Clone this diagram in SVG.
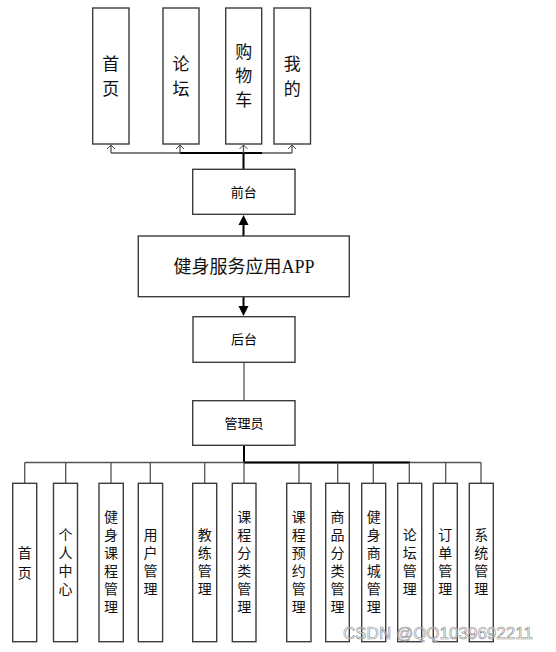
<svg xmlns="http://www.w3.org/2000/svg" width="556" height="652" viewBox="0 0 556 652">
<style>
.box{fill:#fff;stroke:#3c3c3c;stroke-width:1.4}
.t{font-family:"Noto Sans CJK SC","Noto Sans",sans-serif;fill:#111;text-anchor:middle}
.top{font-size:17px}
.bot{font-size:14px}
.mid{font-size:13px;fill:#000}
.ln{fill:none;stroke:#555;stroke-width:1.3}
.thk{fill:none;stroke:#000;stroke-width:2}
.ah{fill:none;stroke:#444;stroke-width:1}
</style>
<g id="connectors">
<path class="ln" d="M111,153 H292"/>
<path class="thk" d="M180,153 H262"/>
<path class="thk" d="M243.5,169 V153"/>
<path class="ln" d="M111,153 V145 M180,153 V145 M243.5,153 V145 M292,153 V145"/>
<path class="ah" d="M107,149 L111,145 L115,149 M176,149 L180,145 L184,149 M239.5,149 L243.5,145 L247.5,149 M288,149 L292,145 L296,149"/>
<line class="thk" x1="243.5" y1="236" x2="243.5" y2="224"/>
<path d="M238.5,225 L248.5,225 L243.5,215 Z" fill="#000"/>
<line class="thk" x1="243.5" y1="297" x2="243.5" y2="307"/>
<path d="M238.5,306 L248.5,306 L243.5,316 Z" fill="#000"/>
<line class="ln" x1="244" y1="362" x2="244" y2="401"/>
<line class="thk" x1="244" y1="445" x2="244" y2="462.5"/>
<path class="ln" d="M24.7,462.5 H481"/>
<path class="thk" d="M244,462.5 H410"/>
<path class="ln" d="M24.7,462.5 V483 M65.7,462.5 V483 M111,462.5 V483 M150.3,462.5 V483 M204.7,462.5 V483 M244,462.5 V483 M299,462.5 V483 M337.7,462.5 V483 M373.3,462.5 V483 M409.3,462.5 V483 M445.7,462.5 V483 M481,462.5 V483"/>
</g>
<g id="n-home"><rect class="box" x="92.7" y="8" width="36.3" height="136"/><text class="t top" x="110.8" y="69.5">首</text><text class="t top" x="110.8" y="94.5">页</text></g>
<g id="n-forum"><rect class="box" x="163" y="8" width="36" height="136"/><text class="t top" x="181" y="69.5">论</text><text class="t top" x="181" y="94.5">坛</text></g>
<g id="n-cart"><rect class="box" x="225.7" y="8" width="36" height="136"/><text class="t top" x="243.7" y="58">购</text><text class="t top" x="243.7" y="82">物</text><text class="t top" x="243.7" y="106">车</text></g>
<g id="n-mine"><rect class="box" x="274" y="8" width="36.5" height="136"/><text class="t top" x="292.2" y="69.5">我</text><text class="t top" x="292.2" y="94.5">的</text></g>
<g id="n-front"><rect class="box" x="192.7" y="169.3" width="102.3" height="45"/><text class="t mid" x="243.8" y="196.5">前台</text></g>
<g id="n-app"><rect class="box" x="138.3" y="236" width="211" height="60.7"/><text x="244" y="273" style="font-family:'Noto Sans CJK SC',sans-serif;font-size:18px;fill:#111;text-anchor:middle">健身服务应用<tspan style="font-family:'Liberation Serif',serif">APP</tspan></text></g>
<g id="n-back"><rect class="box" x="193" y="316.7" width="102" height="45.6"/><text class="t mid" x="244" y="344">后台</text></g>
<g id="n-admin"><rect class="box" x="192.7" y="400.7" width="102.3" height="44.6"/><text class="t mid" x="244" y="427.5">管理员</text></g>
<g id="b1"><rect class="box" x="12.7" y="483.3" width="24" height="158.4"/><text class="t bot"><tspan x="24.7" y="558">首</tspan><tspan x="24.7" y="578">页</tspan></text></g>
<g id="b2"><rect class="box" x="53.5" y="483.3" width="24" height="158.4"/><text class="t bot"><tspan x="65.5" y="540">个</tspan><tspan x="65.5" y="558">人</tspan><tspan x="65.5" y="576">中</tspan><tspan x="65.5" y="594">心</tspan></text></g>
<g id="b3"><rect class="box" x="99" y="483.3" width="24.3" height="158.4"/><text class="t bot"><tspan x="111.1" y="522">健</tspan><tspan x="111.1" y="540">身</tspan><tspan x="111.1" y="558">课</tspan><tspan x="111.1" y="576">程</tspan><tspan x="111.1" y="594">管</tspan><tspan x="111.1" y="612">理</tspan></text></g>
<g id="b4"><rect class="box" x="138.3" y="483.3" width="24.3" height="158.4"/><text class="t bot"><tspan x="150.5" y="540">用</tspan><tspan x="150.5" y="558">户</tspan><tspan x="150.5" y="576">管</tspan><tspan x="150.5" y="594">理</tspan></text></g>
<g id="b5"><rect class="box" x="192.7" y="483.3" width="24" height="158.4"/><text class="t bot"><tspan x="204.7" y="540">教</tspan><tspan x="204.7" y="558">练</tspan><tspan x="204.7" y="576">管</tspan><tspan x="204.7" y="594">理</tspan></text></g>
<g id="b6"><rect class="box" x="232.3" y="483.3" width="23.7" height="158.4"/><text class="t bot"><tspan x="244.2" y="522">课</tspan><tspan x="244.2" y="540">程</tspan><tspan x="244.2" y="558">分</tspan><tspan x="244.2" y="576">类</tspan><tspan x="244.2" y="594">管</tspan><tspan x="244.2" y="612">理</tspan></text></g>
<g id="b7"><rect class="box" x="286.7" y="483.3" width="24.3" height="158.4"/><text class="t bot"><tspan x="298.8" y="522">课</tspan><tspan x="298.8" y="540">程</tspan><tspan x="298.8" y="558">预</tspan><tspan x="298.8" y="576">约</tspan><tspan x="298.8" y="594">管</tspan><tspan x="298.8" y="612">理</tspan></text></g>
<g id="b8"><rect class="box" x="325.7" y="483.3" width="23.6" height="158.4"/><text class="t bot"><tspan x="337.5" y="522">商</tspan><tspan x="337.5" y="540">品</tspan><tspan x="337.5" y="558">分</tspan><tspan x="337.5" y="576">类</tspan><tspan x="337.5" y="594">管</tspan><tspan x="337.5" y="612">理</tspan></text></g>
<g id="b9"><rect class="box" x="361.7" y="483.3" width="24" height="158.4"/><text class="t bot"><tspan x="373.7" y="522">健</tspan><tspan x="373.7" y="540">身</tspan><tspan x="373.7" y="558">商</tspan><tspan x="373.7" y="576">城</tspan><tspan x="373.7" y="594">管</tspan><tspan x="373.7" y="612">理</tspan></text></g>
<g id="b10"><rect class="box" x="397.7" y="483.3" width="24" height="158.4"/><text class="t bot"><tspan x="409.7" y="540">论</tspan><tspan x="409.7" y="558">坛</tspan><tspan x="409.7" y="576">管</tspan><tspan x="409.7" y="594">理</tspan></text></g>
<g id="b11"><rect class="box" x="433.3" y="483.3" width="24" height="158.4"/><text class="t bot"><tspan x="445.3" y="540">订</tspan><tspan x="445.3" y="558">单</tspan><tspan x="445.3" y="576">管</tspan><tspan x="445.3" y="594">理</tspan></text></g>
<g id="b12"><rect class="box" x="469.3" y="483.3" width="24" height="158.4"/><text class="t bot"><tspan x="481.3" y="540">系</tspan><tspan x="481.3" y="558">统</tspan><tspan x="481.3" y="576">管</tspan><tspan x="481.3" y="594">理</tspan></text></g>
<text x="343" y="638.5" style="font-family:'Liberation Sans',Arial,sans-serif;font-size:17px;fill:#fff;fill-opacity:0.6;stroke:#8a8a8a;stroke-width:0.6">CSDN @QQ1039692211</text>
</svg>
